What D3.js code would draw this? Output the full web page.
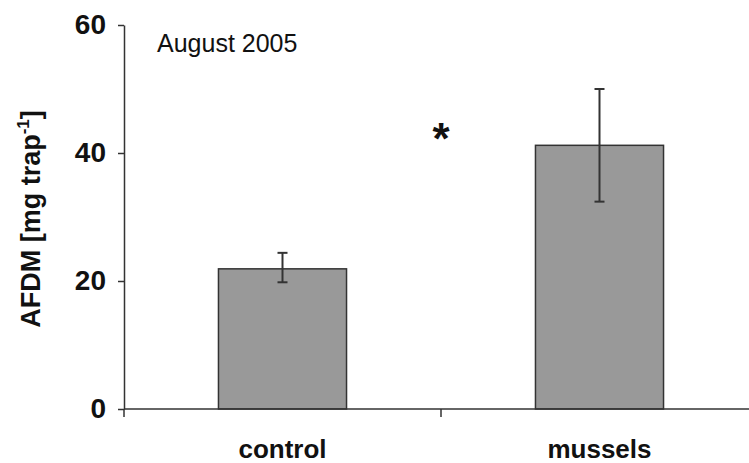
<!DOCTYPE html>
<html>
<head>
<meta charset="utf-8">
<script src="https://cdn.jsdelivr.net/npm/d3@7"></script>
<style>
  html, body { margin: 0; padding: 0; background: #fff; }
  svg { display: block; font-family: "Liberation Sans", Arial, sans-serif; }
</style>
</head>
<body>
<svg id="chart" width="749" height="463"></svg>
<script>
const categories = ["control", "mussels"];
const means = [21.9, 41.2];
const upperErr = [24.4, 50.0];
const lowerErr = [19.8, 32.4];
const yTicks = [0, 20, 40, 60];
const panelLabel = "August 2005";
const significance = "*";

const svg = d3.select("#chart");
const x0 = 124, x1 = 758, yTop = 25, yBot = 409;

const y = d3.scaleLinear().domain([0, 60]).range([yBot, yTop]);
const xOuter = d3.scaleBand().domain(categories).range([x0, x1]).padding(0);
const x = d3.scaleBand().domain(categories).range([x0, x1])
  .paddingInner(0.596).paddingOuter(0.298);

const axisColor = "#333";

// Bars
svg.append("g").selectAll("rect").data(categories).join("rect")
  .attr("x", d => x(d))
  .attr("y", (d, i) => y(means[i]))
  .attr("width", x.bandwidth())
  .attr("height", (d, i) => y(0) - y(means[i]))
  .attr("fill", "#999999")
  .attr("stroke", "#333")
  .attr("stroke-width", 1.5);

// Error bars
const eb = svg.append("g").attr("stroke", "#333").attr("stroke-width", 2);
categories.forEach((c, i) => {
  const cx = x(c) + x.bandwidth() / 2;
  eb.append("line").attr("x1", cx).attr("x2", cx).attr("y1", y(upperErr[i])).attr("y2", y(lowerErr[i]));
  eb.append("line").attr("x1", cx - 5).attr("x2", cx + 5).attr("y1", y(upperErr[i])).attr("y2", y(upperErr[i]));
  eb.append("line").attr("x1", cx - 5).attr("x2", cx + 5).attr("y1", y(lowerErr[i])).attr("y2", y(lowerErr[i]));
});

// Y axis
const yAxis = svg.append("g").attr("transform", `translate(${x0},0)`)
  .call(d3.axisLeft(y).tickValues(yTicks).tickSize(6).tickPadding(12).tickSizeOuter(0));
yAxis.select(".domain").attr("stroke", axisColor).attr("stroke-width", 1.5);
yAxis.selectAll(".tick line").attr("stroke", axisColor).attr("stroke-width", 1.5);
yAxis.selectAll(".tick text")
  .attr("font-family", "Liberation Sans, Arial, sans-serif")
  .attr("font-size", 28).attr("font-weight", "bold").attr("fill", "#111");

// X axis
const xAxisG = svg.append("g").attr("transform", `translate(0,${yBot})`);
xAxisG.append("line").attr("x1", x0).attr("x2", x1).attr("y1", 0).attr("y2", 0)
  .attr("stroke", axisColor).attr("stroke-width", 1.5);
const dividers = categories.map(c => xOuter(c)).concat([x1]);
xAxisG.selectAll("line.div").data(dividers).join("line").attr("class", "div")
  .attr("x1", d => d).attr("x2", d => d).attr("y1", 0).attr("y2", 8)
  .attr("stroke", axisColor).attr("stroke-width", 1.5);
xAxisG.selectAll("text").data(categories).join("text")
  .attr("x", d => xOuter(d) + xOuter.bandwidth() / 2)
  .attr("y", 49)
  .attr("text-anchor", "middle")
  .attr("font-size", 26).attr("font-weight", "bold").attr("fill", "#111")
  .text(d => d);

// Y axis title
const yt = svg.append("text")
  .attr("transform", `translate(40,${(yTop + yBot) / 2 + 2}) rotate(-90)`)
  .attr("text-anchor", "middle")
  .attr("font-size", 27).attr("font-weight", "bold").attr("fill", "#111");
yt.append("tspan").text("AFDM [mg trap");
yt.append("tspan").attr("font-size", 17).attr("dy", -11).text("-1");
yt.append("tspan").attr("dy", 11).text("]");

// Panel label
svg.append("text").attr("x", 157).attr("y", 52)
  .attr("font-size", 25).attr("fill", "#111").text(panelLabel);

// Significance
svg.append("text").attr("x", (xOuter(categories[1]))).attr("y", 154)
  .attr("text-anchor", "middle")
  .attr("font-size", 44).attr("font-weight", "bold").attr("fill", "#111").text(significance);
</script>
</body>
</html>
